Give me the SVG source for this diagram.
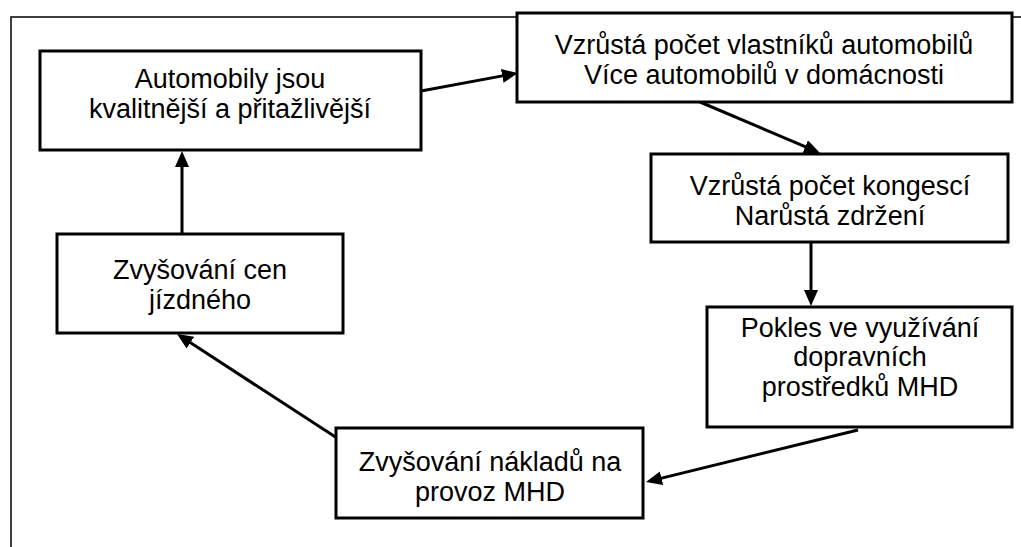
<svg xmlns="http://www.w3.org/2000/svg" width="1021" height="547" viewBox="0 0 1021 547">
<style>
.box{fill:#fff;stroke:#000;stroke-width:3}
.t{font-family:"Liberation Sans",Arial,sans-serif;font-size:27px;fill:#000;text-anchor:middle}
.c{stroke:#000;stroke-width:3;fill:none;marker-end:url(#ah)}
</style>
<defs>
<marker id="ah" markerUnits="userSpaceOnUse" markerWidth="18" markerHeight="16" refX="3" refY="7" orient="auto"><path d="M0,0 L16,7 L0,14 z" fill="#000"/></marker>
</defs>
<rect width="1021" height="547" fill="#fff"/>
<polyline points="11,547 11,17 1021,17" fill="none" stroke="#000" stroke-width="1.5"/>
<g id="connectors">
<line class="c" x1="182" y1="234" x2="182" y2="164"/>
<line class="c" x1="421" y1="91" x2="505.2" y2="75.4"/>
<line class="c" x1="700" y1="102" x2="808" y2="147.9"/>
<line class="c" x1="811" y1="242" x2="811" y2="293"/>
<line class="c" x1="858" y1="430" x2="658.6" y2="478.9"/>
<line class="c" x1="337" y1="438" x2="187.9" y2="341.1"/>
</g>
<g id="n1"><rect class="box" x="40" y="51" width="381" height="99"/><text class="t" x="230" y="88">Automobily jsou</text><text class="t" x="230" y="118">kvalitnější a přitažlivější</text></g>
<g id="n2"><rect class="box" x="517" y="13" width="495" height="89"/><text class="t" x="764" y="54">Vzrůstá počet vlastníků automobilů</text><text class="t" x="764" y="84">Více automobilů v domácnosti</text></g>
<g id="n3"><rect class="box" x="651" y="154" width="357" height="88"/><text class="t" x="830" y="195">Vzrůstá počet kongescí</text><text class="t" x="830" y="225">Narůstá zdržení</text></g>
<g id="n4"><rect class="box" x="707" y="307" width="305" height="120"/><text class="t" x="860" y="337">Pokles ve využívání</text><text class="t" x="860" y="366">dopravních</text><text class="t" x="860" y="396">prostředků MHD</text></g>
<g id="n5"><rect class="box" x="336" y="428" width="307" height="90"/><text class="t" x="490" y="471">Zvyšování nákladů na</text><text class="t" x="490" y="501">provoz MHD</text></g>
<g id="n6"><rect class="box" x="57" y="234" width="286" height="99"/><text class="t" x="200" y="279">Zvyšování cen</text><text class="t" x="200" y="309">jízdného</text></g>
</svg>
